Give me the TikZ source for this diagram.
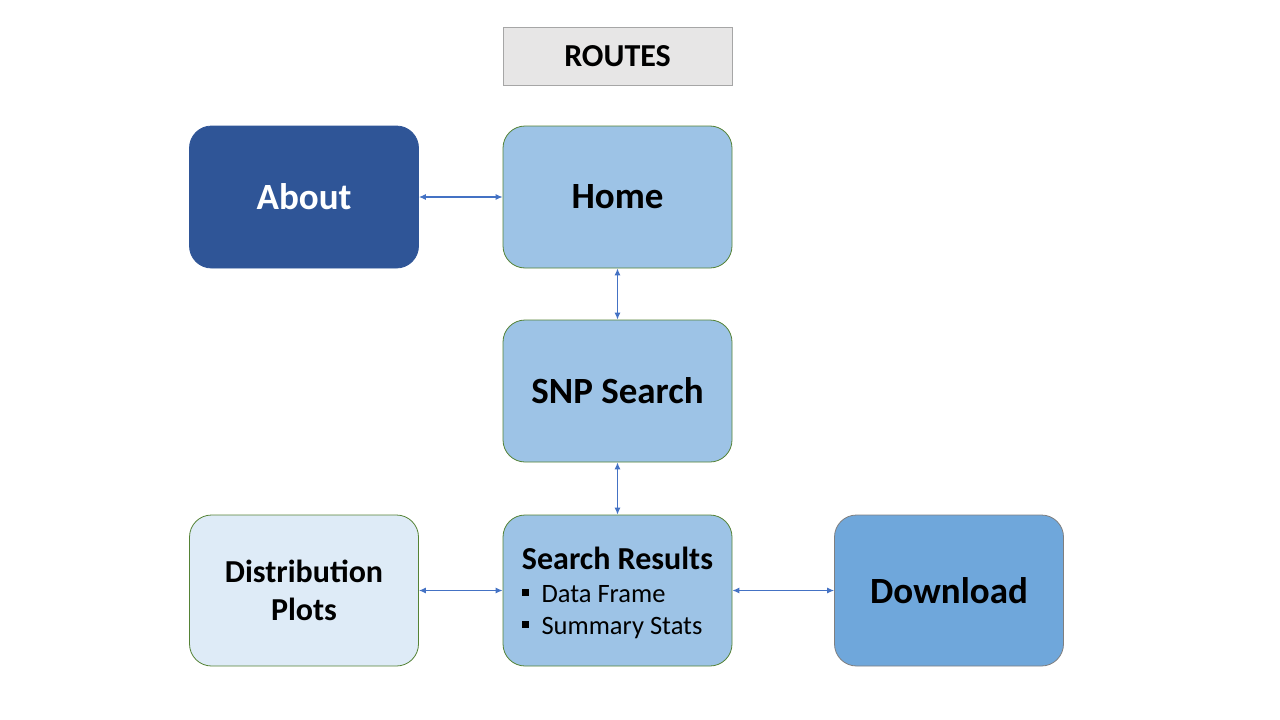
\documentclass[tikz,border=0pt]{standalone}
\usepackage{fontspec}
\setmainfont{Carlito}
\usetikzlibrary{arrows.meta}
\definecolor{titlefill}{HTML}{E7E6E6}
\definecolor{titledraw}{HTML}{A6A6A6}
\definecolor{darkblue}{HTML}{2F5597}
\definecolor{midblue}{HTML}{9DC3E6}
\definecolor{paleblue}{HTML}{DEEBF7}
\definecolor{dlblue}{HTML}{6FA7DB}
\definecolor{greenedge}{HTML}{548235}
\definecolor{grayedge}{HTML}{7F7F7F}
\definecolor{arrowblue}{HTML}{4472C4}
\tikzset{
  box/.style={rectangle, rounded corners=22pt, minimum width=229pt, line width=0.8pt, align=center, font=\bfseries},
  lbox/.style={box, fill=midblue, draw=greenedge, minimum height=142pt, font=\bfseries\fontsize{37}{42}\selectfont},
  link/.style={draw=arrowblue, line width=1.1pt, {Latex[length=7pt,width=6pt]}-{Latex[length=7pt,width=6pt]}}
}
\begin{document}
\begin{tikzpicture}[x=1pt,y=-1pt]
\useasboundingbox (0,0) rectangle (1280,720);
\node[rectangle, fill=titlefill, draw=titledraw, line width=0.8pt, minimum width=229pt, minimum height=58pt, font=\bfseries\fontsize{32}{36}\selectfont] (routes) at (617.5,56) {ROUTES};
\node[box, fill=darkblue, draw=darkblue, minimum height=142pt, text=white, font=\bfseries\fontsize{37}{42}\selectfont] (about) at (304,197) {About};
\node[lbox] (home) at (617.5,197) {Home};
\node[lbox] (snp) at (617.5,391) {SNP Search};
\node[box, fill=paleblue, draw=greenedge, minimum height=151pt, font=\bfseries\fontsize{32}{38}\selectfont] (dist) at (304,590.5) {Distribution\\Plots};
\node[box, fill=midblue, draw=greenedge, minimum height=151pt] (res) at (617.5,590.5) {};
\node[box, fill=dlblue, draw=grayedge, minimum height=151pt, font=\bfseries\fontsize{37}{42}\selectfont] (dl) at (949,590.5) {Download};
\node[font=\bfseries\fontsize{32}{36}\selectfont, anchor=base] (restitle) at (617.5,569) {Search Results};
\node[font=\fontsize{26.5}{30}\selectfont, anchor=base west] (df) at (538,602) {Data Frame};
\node[font=\fontsize{26.5}{30}\selectfont, anchor=base west] (ss) at (538,634) {Summary Stats};
\fill (522,589) rectangle (529,596);
\fill (522,621) rectangle (529,628);
\draw[link] (about.east) -- (home.west);
\draw[link] (home.south) -- (snp.north);
\draw[link] (snp.south) -- (res.north);
\draw[link] (dist.east) -- (res.west);
\draw[link] (res.east) -- (dl.west);
\end{tikzpicture}
\end{document}
